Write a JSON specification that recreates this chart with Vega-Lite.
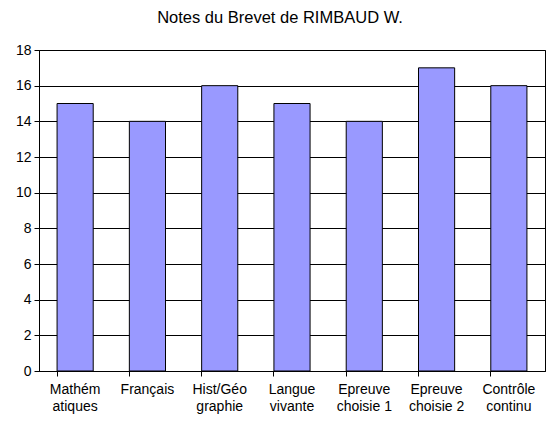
{
  "$schema": "https://vega.github.io/schema/vega-lite/v6.json",
  "autosize": "none",
  "width": 506,
  "height": 321,
  "padding": {"left": 39, "top": 50, "right": 15, "bottom": 56},
  "background": "white",
  "title": {
    "text": "Notes du Brevet de RIMBAUD W.",
    "font": "Liberation Sans",
    "fontSize": 16.5,
    "fontWeight": "normal",
    "color": "black",
    "offset": 17,
    "dx": -12
  },
  "data": {
    "values": [
      {"matiere": "Mathém|atiques", "note": 15},
      {"matiere": "Français", "note": 14},
      {"matiere": "Hist/Géo|graphie", "note": 16},
      {"matiere": "Langue|vivante", "note": 15},
      {"matiere": "Epreuve|choisie 1", "note": 14},
      {"matiere": "Epreuve|choisie 2", "note": 17},
      {"matiere": "Contrôle|continu", "note": 16}
    ]
  },
  "mark": {"type": "bar", "fill": "#9999FF", "stroke": "black", "strokeWidth": 1},
  "encoding": {
    "x": {
      "field": "matiere",
      "type": "nominal",
      "sort": null,
      "title": null,
      "scale": {"paddingInner": 0.5, "paddingOuter": 0.25},
      "axis": {
        "labelExpr": "split(datum.label, '|')",
        "labelAngle": 0,
        "labelFont": "Liberation Sans",
        "labelFontSize": 14,
        "labelColor": "black",
        "labelLineHeight": 17,
        "labelPadding": 6,
        "tickSize": 5,
        "tickColor": "black",
        "domainColor": "black",
        "bandPosition": 0,
        "grid": false
      }
    },
    "y": {
      "field": "note",
      "type": "quantitative",
      "title": null,
      "scale": {"domain": [0, 18], "nice": false},
      "axis": {
        "values": [0, 2, 4, 6, 8, 10, 12, 14, 16, 18],
        "labelFont": "Liberation Sans",
        "labelFontSize": 14,
        "labelColor": "black",
        "labelPadding": 3,
        "tickSize": 5,
        "tickColor": "black",
        "domainColor": "black",
        "gridColor": "black",
        "gridOpacity": 1
      }
    }
  },
  "config": {
    "view": {"stroke": "black", "strokeWidth": 1}
  }
}
